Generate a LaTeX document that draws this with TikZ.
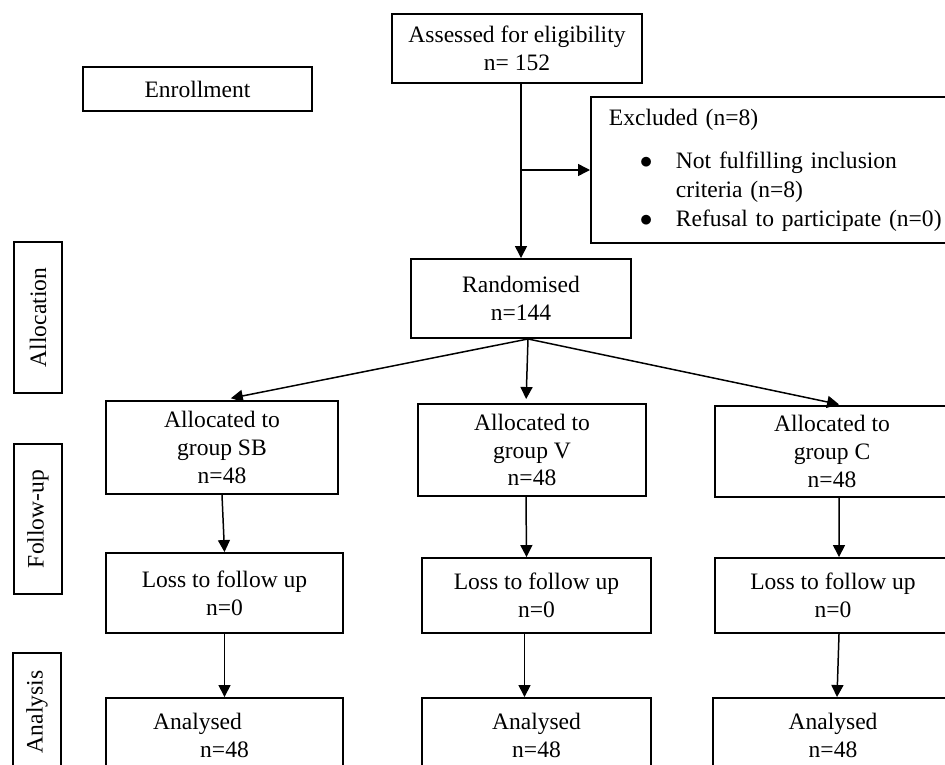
\documentclass[tikz,border=0pt]{standalone}
\usepackage{fontspec}
\setmainfont{Liberation Serif}
\usetikzlibrary{arrows.meta}
\newcommand{\pxl}{0.02cm}

\begin{document}
\begin{tikzpicture}[x=0.02cm,y=-0.02cm,
		box/.style={draw,line width=1.1pt,inner sep=0pt,align=center,font=\fontsize{13.4}{15.9}\selectfont},
		phase/.style={box,rotate=90,minimum height=48*\pxl},
		arr/.style={-{Triangle[length=2.4mm,width=2.4mm]},line width=0.85pt}]
	\useasboundingbox (0,0) rectangle (945,764);
	\clip (0,0) rectangle (945,764);
	% stage labels
	\node[box,minimum width=229*\pxl,minimum height=44*\pxl] (enrol) at (197.5,89) {Enrollment};
	\node[phase,minimum width=151*\pxl] (alloc) at (38,317.5) {Allocation};
	\node[phase,minimum width=150*\pxl] (follow) at (38,519) {Follow-up};
	\node[phase,minimum width=118*\pxl] (analysis) at (37,712) {Analysis};
	% enrolment
	\node[box,minimum width=250*\pxl,minimum height=69*\pxl] (assess) at (517,48.5) {Assessed for eligibility\\n= 152};
	\node[box,anchor=west,align=left,text width=340*\pxl,inner xsep=18*\pxl,minimum height=146*\pxl] (excl) at (590,170)
		{Excluded (n=8)\\[0.3cm]
		\hspace*{0.62cm}\makebox[0.72cm][l]{$\bullet$}Not fulfilling inclusion\\[0.02cm]
		\hspace*{1.34cm}criteria (n=8)\\[0.02cm]
		\hspace*{0.62cm}\makebox[0.72cm][l]{$\bullet$}Refusal to participate (n=0)};
	\node[box,minimum width=220*\pxl,minimum height=79*\pxl] (rand) at (521,298.5) {Randomised\\n=144};
	% allocation
	\node[box,minimum width=232*\pxl,minimum height=93*\pxl] (sbgrp) at (222,447.5) {Allocated to\\group SB\\n=48};
	\node[box,minimum width=228*\pxl,minimum height=92*\pxl] (vgrp) at (532,450) {Allocated to\\group V\\n=48};
	\node[box,minimum width=234*\pxl,minimum height=91*\pxl] (cgrp) at (832,451.5) {Allocated to\\group C\\n=48};
	% follow-up
	\node[box,minimum width=237*\pxl,minimum height=80*\pxl] (sbloss) at (224.5,593) {Loss to follow up\\n=0};
	\node[box,minimum width=229*\pxl,minimum height=75*\pxl] (vloss) at (536.5,595.5) {Loss to follow up\\n=0};
	\node[box,minimum width=236*\pxl,minimum height=75*\pxl] (closs) at (833,595.5) {Loss to follow up\\n=0};
	% analysis
	\node[box,minimum width=237*\pxl,minimum height=74*\pxl] (sbdone) at (224.5,735) {Analysed\hspace*{1.08cm}\\n=48};
	\node[box,minimum width=229*\pxl,minimum height=74*\pxl] (vdone) at (536.5,735) {Analysed\\n=48};
	\node[box,minimum width=240*\pxl,minimum height=74*\pxl] (cdone) at (833,735) {Analysed\\n=48};
	% arrows
	\draw[arr] (assess.south -| rand.north) -- (rand.north);
	\draw[arr] (rand.north |- excl.west) -- (excl.west);
	\draw[arr,shorten >=0.18cm] ([xshift=0.14cm]rand.south) -- (sbgrp.north);
	\draw[arr,shorten >=0.08cm] ([xshift=0.14cm]rand.south) -- ([xshift=-0.12cm]vgrp.north);
	\draw[arr,shorten >=0.06cm] ([xshift=0.14cm]rand.south) -- ([xshift=0.2cm]cgrp.north);
	\draw[arr] (sbgrp.south) -- (sbloss.north);
	\draw[arr] ([xshift=-0.12cm]vgrp.south) -- ([xshift=-0.2cm]vloss.north);
	\draw[arr] ([xshift=0.14cm]cgrp.south) -- ([xshift=0.12cm]closs.north);
	\draw[arr] (sbloss.south) -- (sbdone.north);
	\draw[arr] ([xshift=-0.24cm]vloss.south) -- ([xshift=-0.24cm]vdone.north);
	\draw[arr] ([xshift=0.12cm]closs.south) -- ([xshift=0.08cm]cdone.north);
\end{tikzpicture}
\end{document}
